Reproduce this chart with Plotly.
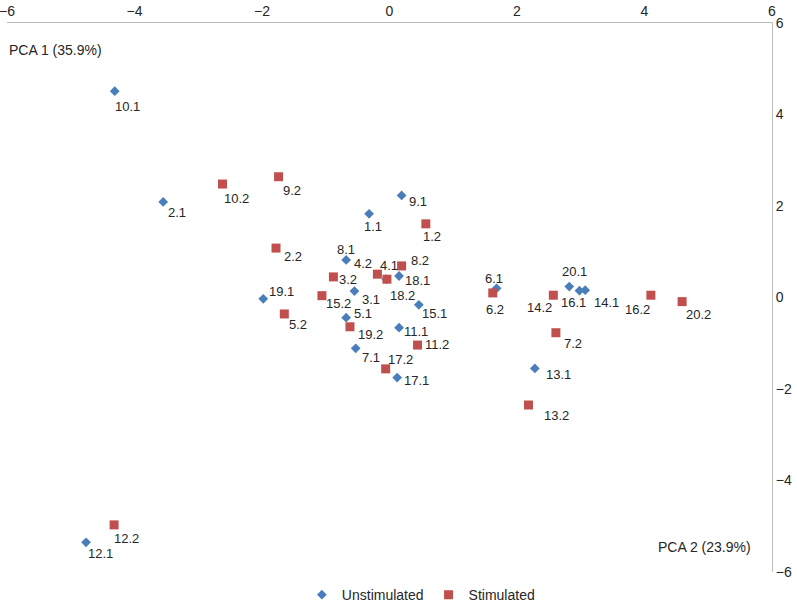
import plotly.graph_objects as go

# Unstimulated (blue diamonds)
unstim_labels = ["1.1", "2.1", "3.1", "4.1", "5.1", "6.1", "7.1", "8.1", "9.1", "10.1",
                 "11.1", "12.1", "13.1", "14.1", "15.1", "16.1", "17.1", "18.1", "19.1", "20.1"]
unstim_x = [-0.32, -3.55, -0.55, -0.05, -0.68, 1.68, -0.53, -0.68, 0.19, -4.31,
            0.15, -4.76, 2.28, 3.07, 0.46, 2.98, 0.12, 0.15, -1.98, 2.82]
unstim_y = [1.83, 2.09, 0.14, 0.40, -0.44, 0.20, -1.11, 0.82, 2.23, 4.51,
            -0.66, -5.35, -1.55, 0.16, -0.16, 0.15, -1.75, 0.47, -0.03, 0.24]

# Stimulated (red squares)
stim_labels = ["1.2", "2.2", "3.2", "4.2", "5.2", "6.2", "7.2", "8.2", "9.2", "10.2",
               "11.2", "12.2", "13.2", "14.2", "15.2", "16.2", "17.2", "18.2", "19.2", "20.2"]
stim_x = [0.57, -1.78, -0.88, -0.19, -1.65, 1.62, 2.61, 0.19, -1.74, -2.62,
          0.44, -4.32, 2.18, 2.57, -1.06, 4.10, -0.06, -0.04, -0.62, 4.59]
stim_y = [1.61, 1.08, 0.45, 0.51, -0.36, 0.10, -0.77, 0.69, 2.64, 2.48,
          -1.04, -4.97, -2.35, 0.05, 0.04, 0.05, -1.56, 0.40, -0.64, -0.09]

axis_ticks = [-6, -4, -2, 0, 2, 4, 6]

# label offsets in pixels from each marker (style only): (dx right, dy down)
unstim_off = [(4, 13), (14, 11), (17, 8), (3, -14), (17, -4), (-3, -10), (15, 9), (0, -10),
              (16, 6), (13, 15), (17, 4), (14, 11), (24, 6), (21, 12), (16, 9), (-6, 12),
              (19, 3), (18, 4), (18, -7), (5, -15)]
stim_off = [(6, 13), (17, 8), (15, 3), (-14, -11), (14, 11), (2, 17), (17, 11), (18, -5),
            (13, 14), (14, 14), (19, -1), (12, 14), (28, 10), (-14, 12), (17, 8), (-13, 14),
            (15, -9), (16, 16), (21, 8), (16, 13)]

BLUE = "#4A7EBB"
RED = "#C0504D"
FONT = "Liberation Sans, Arial, sans-serif"
TXT = "#262626"

fig = go.Figure()
fig.add_trace(go.Scatter(
    x=unstim_x, y=unstim_y, mode="markers", name="Unstimulated",
    marker=dict(symbol="diamond", size=7.5, color=BLUE),
    cliponaxis=False,
))
fig.add_trace(go.Scatter(
    x=stim_x, y=stim_y, mode="markers", name="Stimulated",
    marker=dict(symbol="square", size=9, color=RED),
    cliponaxis=False,
))

for labels, xs, ys, offs in [(unstim_labels, unstim_x, unstim_y, unstim_off),
                             (stim_labels, stim_x, stim_y, stim_off)]:
    for lab, xv, yv, (dx, dy) in zip(labels, xs, ys, offs):
        fig.add_annotation(x=xv, y=yv, text=lab, showarrow=False,
                           xanchor="center", yanchor="middle",
                           xshift=dx, yshift=-dy,
                           font=dict(family=FONT, size=13, color=TXT))

fig.add_annotation(text="PCA 1 (35.9%)", xref="paper", yref="paper", x=0.0, y=0.95,
                   xanchor="left", yanchor="middle", showarrow=False,
                   font=dict(family=FONT, size=14, color=TXT))
fig.add_annotation(text="PCA 2 (23.9%)", xref="paper", yref="paper", x=0.975, y=0.045,
                   xanchor="right", yanchor="middle", showarrow=False,
                   font=dict(family=FONT, size=14, color=TXT))

fig.update_layout(
    width=797, height=605,
    margin=dict(l=7, r=25, t=23, b=33, autoexpand=False),
    paper_bgcolor="white", plot_bgcolor="white",
    font=dict(family=FONT, size=14, color=TXT),
    showlegend=True,
    legend=dict(orientation="h", x=0.541, xanchor="center", y=-0.042, yanchor="middle",
                font=dict(family=FONT, size=14, color=TXT), itemwidth=30,
                traceorder="normal"),
    xaxis=dict(range=[-6, 6], side="top", tickvals=axis_ticks, showgrid=False,
               zeroline=False, showline=True, linecolor="#BDBDBD", linewidth=1,
               ticks="", ticklabeloverflow="allow",
               tickfont=dict(family=FONT, size=14, color=TXT)),
    yaxis=dict(range=[-6, 6], side="right", tickvals=axis_ticks, showgrid=False,
               zeroline=False, showline=True, linecolor="#BDBDBD", linewidth=1,
               ticks="", ticklabeloverflow="allow",
               tickfont=dict(family=FONT, size=14, color=TXT)),
)

# remove the browser's default 8px page margin so the figure fills the window
fig.write_html("out.html", config={"displayModeBar": False},
               post_script="document.body.style.margin='0';document.body.style.overflow='hidden';")
